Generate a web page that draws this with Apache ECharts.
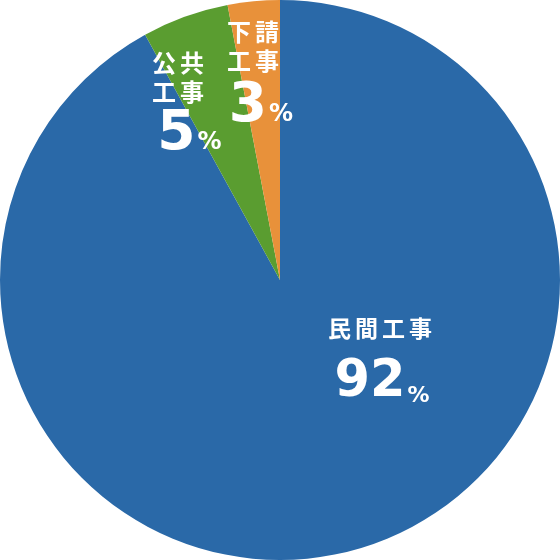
<!DOCTYPE html>
<html><head><meta charset="utf-8">
<script src="https://cdn.jsdelivr.net/npm/echarts@6/dist/echarts.min.js"></script>
<style>html,body{margin:0;padding:0;background:#fff}#c{width:560px;height:560px}</style>
</head><body><div id="c"></div>
<script>
const categories = ['民間工事', '公共工事', '下請工事'];
const values = [92, 5, 3];
const colors = ['#2a69a8', '#5a9d30', '#e8913a'];

const chart = echarts.init(document.getElementById('c'));
const font = '"Noto Sans CJK JP", "Noto Sans", sans-serif';
const numFont = '"DejaVu Sans", sans-serif';
const labelPos = [[380, 361], [178, 106], [253, 78]];
const digitPad = [4, 23, 16];
const digitLine = [66, 58, 64];

function makeRich(i) {
  const big = i === 0;
  const nameLH = big ? 44 : 29;
  const digitLH = digitLine[i];
  const base = {fontWeight: 'bold', color: '#fff'};
  return {
    a: Object.assign({}, base, {fontFamily: font, fontSize: big ? 23 : 24, lineHeight: nameLH, padding: [0, 4, 0, 0]}),
    n: Object.assign({}, base, {fontFamily: font, fontSize: big ? 23 : 24, lineHeight: nameLH}),
    v: Object.assign({}, base, {fontFamily: numFont, fontSize: big ? 51 : 55, lineHeight: digitLH, padding: [0, 0, 0, digitPad[i]]}),
    p: Object.assign({}, base, {fontFamily: numFont, fontSize: big ? 22 : 24, lineHeight: digitLH, padding: [big ? 26 : 16, 0, 0, 2]})
  };
}

function chars(s) {
  const arr = s.split('');
  return arr.map((c, k) => (k < arr.length - 1 ? '{a|' : '{n|') + c + '}').join('');
}

const data = categories.map((name, i) => ({
  name,
  value: values[i],
  itemStyle: {color: colors[i]},
  label: {
    show: true,
    position: 'inside',
    align: 'center',
    verticalAlign: 'middle',
    formatter: i === 0
      ? chars(name) + '\n{v|' + values[i] + '}{p|%}'
      : chars(name.slice(0, 2)) + '\n' + chars(name.slice(2)) + '\n{v|' + values[i] + '}{p|%}',
    rich: makeRich(i)
  }
}));

chart.setOption({
  animation: false,
  series: [{
    type: 'pie',
    center: [280, 280],
    radius: [0, 280],
    startAngle: 90,
    clockwise: true,
    data,
    labelLine: {show: false},
    labelLayout: function (p) {
      const pos = labelPos[p.dataIndex];
      return {x: pos[0], y: pos[1], align: 'center', verticalAlign: 'middle'};
    }
  }]
});
</script></body></html>
